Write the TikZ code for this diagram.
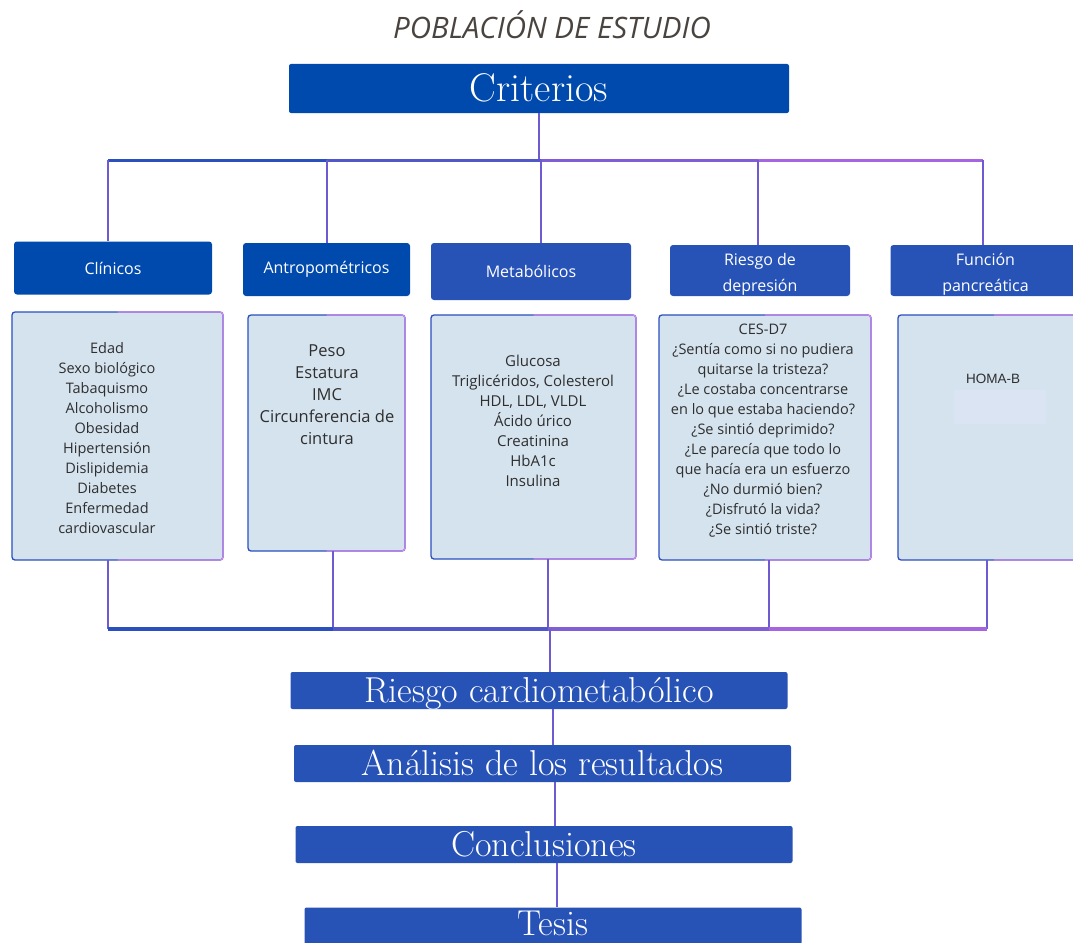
\documentclass[tikz,border=0pt]{standalone}
\usepackage{graphicx}
\usepackage{fontspec}
\setsansfont{Open Sans}
\newfontfamily\homafont{Liberation Sans}
\usetikzlibrary{positioning}

\definecolor{deepblue}{HTML}{004AAD}
\definecolor{midblue}{HTML}{2853B6}
\definecolor{paleblue}{HTML}{D5E3EE}
\definecolor{ghostblue}{HTML}{DAE4F2}
\definecolor{linkblue}{HTML}{2A4FBF}
\definecolor{linkpurple}{HTML}{C46AE8}
\definecolor{titlegray}{HTML}{4A4440}
\definecolor{inkgray}{HTML}{2E2E2E}

\begin{document}
\begin{tikzpicture}[x=1pt, y=-1pt,
  head/.style={rectangle, fill=#1, text=white, minimum width=497pt,
               minimum height=37pt, inner sep=0pt, rounded corners=2pt,
               text height=27pt, text depth=4pt,
               font=\fontsize{36}{40}\selectfont},
  head/.default=midblue,
  cat/.style={rectangle, fill=#1, text=white, minimum height=53pt,
              inner sep=0pt, align=center, rounded corners=3pt,
              font=\sffamily\fontsize{16}{26}\selectfont},
  cat/.default=midblue,
  detail/.style={rectangle, draw=linkblue, line width=1.3pt, fill=paleblue,
                 inner sep=0pt, outer sep=0pt, rounded corners=3pt},
  rim/.style={draw=linkpurple!80, line width=1.3pt, rounded corners=3pt},
  items/.style={align=center, text=inkgray, inner sep=0pt,
                font=\sffamily\fontsize{14.5}{20}\selectfont},
  link/.style={draw=#1, line width=2.2pt},
  link/.default=linkblue!55!linkpurple
]
  \clip (0,0) rectangle (1073,942);
  \fill[white] (0,0) rectangle (1073,942);

  % Title
  \node[text=titlegray, font=\sffamily\itshape\fontsize{29.5}{32}\selectfont] (title) at (552,25)
    {POBLACIÓN DE ESTUDIO};

  \node[head=deepblue, minimum width=500pt, minimum height=49pt,
        text height=28pt, text depth=3pt,
        font=\fontsize{40}{44}\selectfont] (crit) at (539,88.5) {Criterios};

  % Categories
  \node[cat=deepblue, minimum width=198pt] (clin) at (113,268) {Clínicos};
  \node[cat=deepblue, minimum width=167pt] (antro) at (326.5,269.5) {Antropométricos};
  \node[cat, minimum width=200pt, minimum height=57pt] (meta) at (531,271.5) {Metabólicos};
  \node[cat, minimum width=180pt, minimum height=51pt] (dep) at (760,270.5) {\rule{0pt}{20pt}Riesgo de\\depresión};
  \node[cat, minimum width=190pt, minimum height=51pt] (panc) at (985.5,270.5) {\rule{0pt}{20pt}Función\\pancreática};

  % Detail boxes
  \node[detail, minimum width=211pt, minimum height=248pt] (dclin) at (117.5,436) {};
  \node[detail, minimum width=157pt, minimum height=236pt] (dantro) at (326.5,433) {};
  \node[detail, minimum width=205pt, minimum height=244pt] (dmeta) at (533.5,437) {};
  \node[detail, minimum width=212pt, minimum height=245pt] (ddep) at (765,437.5) {};
  \node[detail, minimum width=192pt, minimum height=245pt] (dpanc) at (994,437.5) {};
  \foreach \d in {dclin,dantro,dmeta,ddep,dpanc}
    \draw[rim] (\d.north) -- (\d.north east) -- (\d.south east) -- (\d.south);

  \node[items] (tclin) at (107,438) {Edad\\Sexo biológico\\Tabaquismo\\Alcoholismo\\Obesidad\\Hipertensión\\Dislipidemia\\Diabetes\\Enfermedad\\cardiovascular};
  \node[items, font=\sffamily\fontsize{16.5}{22}\selectfont] (tantro) at (327,394.5) {Peso\\Estatura\\IMC\\Circunferencia de\\cintura};
  \node[items, font=\sffamily\fontsize{15}{20}\selectfont] (tmeta) at (533,421) {Glucosa\\Triglicéridos, Colesterol\\HDL, LDL, VLDL\\Ácido úrico\\Creatinina\\HbA1c\\Insulina};
  \node[items] (tdep) at (763,431) {CES-D7\\¿Sentía como si no pudiera\\quitarse la tristeza?\\¿Le costaba concentrarse\\en lo que estaba haciendo?\\¿Se sintió deprimido?\\¿Le parecía que todo lo\\que hacía era un esfuerzo\\¿No durmió bien?\\¿Disfrutó la vida?\\¿Se sintió triste?};
  \node[items, font=\homafont\fontsize{13.5}{16}\selectfont] (tpanc) at (993,379) {HOMA-B};
  \fill[ghostblue] (954,390) rectangle (1046,424);

  % Process chain
  \node[head] (risk) at (539,690.5) {Riesgo cardiometabólico};
  \node[head] (anal) at (542.5,763.5) {Análisis de los resultados};
  \node[head] (concl) at (544,844.5) {Conclusiones};
  \node[head, text depth=9pt] (thesis) at (553,926) {Tesis};

  % Upper tree
  \foreach \n/\x in {b1/108, b2/327, b3/541, b4/758, b5/983}
    \coordinate (\n) at (\x,160);
  \draw[link] (crit.south) -- (crit.south |- b3);
  \draw[link=linkblue, line width=3pt] (b1) -- (b2);
  \draw[link=linkblue!75!linkpurple, line width=3pt] (b2) -- (b3);
  \draw[link=linkblue!45!linkpurple, line width=3pt] (b3) -- (b4);
  \draw[link=linkblue!20!linkpurple, line width=3pt] (b4) -- (b5);
  \draw[link] (b1) -- (b1 |- clin.north);
  \draw[link] (b2) -- (b2 |- antro.north);
  \draw[link] (b3) -- (b3 |- meta.north);
  \draw[link] (b4) -- (b4 |- dep.north);
  \draw[link] (b5) -- (b5 |- panc.north);

  % Lower tree
  \foreach \n/\x in {q0/550, q1/108, q2/333, q3/548, q4/769, q5/987}
    \coordinate (\n) at (\x,629);
  \draw[link] (q1 |- dclin.south) -- (q1);
  \draw[link] (q2 |- dantro.south) -- (q2);
  \draw[link] (q3 |- dmeta.south) -- (q3);
  \draw[link] (q4 |- ddep.south) -- (q4);
  \draw[link] (q5 |- dpanc.south) -- (q5);
  \draw[link=linkblue, line width=4pt] (q1) -- (q2);
  \draw[link=linkblue!75!linkpurple, line width=4pt] (q2) -- (q3);
  \draw[link=linkblue!45!linkpurple, line width=4pt] (q3) -- (q4);
  \draw[link=linkblue!20!linkpurple, line width=4pt] (q4) -- (q5);
  \draw[link] (q0) -- (q0 |- risk.north);
  \draw[link] ([xshift=14pt]risk.south) -- ([xshift=14pt]risk.south |- anal.north);
  \draw[link] ([xshift=12.5pt]anal.south) -- ([xshift=12.5pt]anal.south |- concl.north);
  \draw[link] ([xshift=13pt]concl.south) -- ([xshift=13pt]concl.south |- thesis.north);
\end{tikzpicture}
\end{document}
